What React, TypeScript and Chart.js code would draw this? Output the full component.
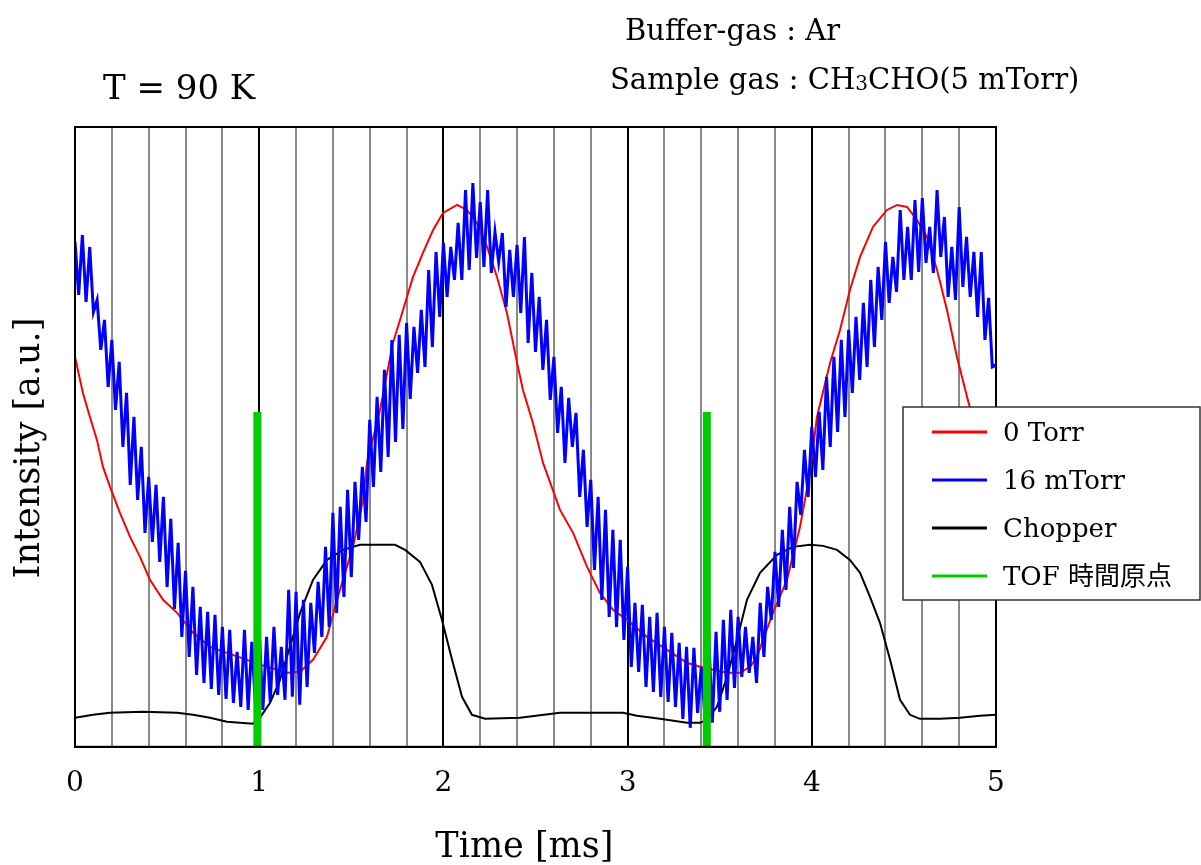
import React, { useEffect, useRef } from 'react';
import { Chart, registerables } from 'chart.js';

Chart.register(...registerables);

const X_MIN = 0;
const X_MAX = 5;
const X_STEP = 0.2;
const Y_MIN = 0;
const Y_MAX = 620;

const X_TITLE = 'Time [ms]\u00A0\u00A0';
const Y_TITLE = 'Intensity [a.u.]\u00A0\u00A0';

const SERIES_LABELS = ['0 Torr', '16 mTorr', 'Chopper', 'TOF 時間原点'];
const SERIES_COLORS = ['#ff0000', '#0000ff', '#000000', '#00cc00'];

// 0 Torr (red)
const RED_T = [0, 0.043, 0.081, 0.119, 0.152, 0.19, 0.244, 0.299, 0.353, 0.407, 0.478, 0.554, 0.641, 0.733, 0.825, 0.934, 1.042, 1.151, 1.222, 1.292, 1.368, 1.422, 1.509, 1.564, 1.585, 1.656, 1.726, 1.781, 1.835, 1.889, 1.944, 1.998, 2.074, 2.128, 2.182, 2.237, 2.291, 2.345, 2.4, 2.432, 2.486, 2.541, 2.633, 2.704, 2.78, 2.85, 2.921, 2.997, 3.105, 3.214, 3.322, 3.393, 3.464, 3.54, 3.61, 3.665, 3.703, 3.735, 3.789, 3.865, 3.936, 3.99, 4.028, 4.099, 4.153, 4.207, 4.262, 4.332, 4.408, 4.463, 4.517, 4.571, 4.625, 4.68, 4.734, 4.788, 4.843, 4.891, 4.946, 5.0];
const RED_V = [390, 354, 330, 307, 280, 260, 234, 210, 190, 167, 147, 134, 114, 100, 94, 87, 80, 74, 75, 87, 110, 147, 200, 247, 284, 337, 404, 437, 470, 494, 517, 534, 542, 537, 524, 500, 470, 434, 384, 357, 324, 284, 237, 214, 180, 154, 137, 127, 110, 97, 84, 80, 77, 74, 74, 80, 90, 107, 134, 167, 220, 274, 330, 384, 417, 457, 490, 520, 537, 542, 540, 527, 510, 477, 437, 390, 350, 317, 277, 247];

// 16 mTorr (blue), sampled every BLUE_DT ms from BLUE_T0
const BLUE_T0 = 0;
const BLUE_DT = 0.02;
const BLUE_V = [
  505, 452, 512, 445, 500, 435, 447, 397, 427, 360,
  407, 337, 385, 300, 354, 262, 330, 247, 300, 214,
  270, 205, 262, 185, 250, 160, 228, 138, 204, 110,
  176, 90, 160, 72, 140, 64, 135, 58, 132, 52,
  120, 48, 117, 44, 95, 40, 117, 37, 105, 40,
  117, 37, 110, 45, 120, 52, 100, 47, 157, 50,
  155, 42, 147, 60, 144, 94, 165, 110, 200, 120,
  234, 134, 240, 150, 257, 170, 265, 207, 280, 225,
  327, 260, 350, 275, 377, 290, 407, 305, 412, 318,
  424, 348, 420, 374, 437, 380, 477, 400, 495, 430,
  504, 450, 500, 467, 524, 467, 557, 477, 564, 489,
  545, 480, 557, 474, 515, 485, 514, 440, 497, 450,
  502, 434, 510, 404, 474, 395, 450, 377, 427, 347,
  390, 314, 360, 284, 349, 300, 334, 250, 297, 220,
  267, 177, 250, 147, 237, 130, 217, 120, 207, 107,
  180, 80, 144, 75, 142, 60, 130, 55, 134, 50,
  120, 45, 114, 40, 104, 28, 100, 19, 99, 34,
  80, 30, 112, 24, 115, 35, 127, 47, 137, 59,
  130, 70, 120, 74, 110, 64, 144, 90, 160, 127,
  195, 140, 217, 157, 240, 179, 265, 232, 297, 250,
  320, 270, 335, 277, 370, 300, 390, 315, 407, 330,
  417, 354, 430, 367, 444, 380, 467, 400, 480, 427,
  505, 444, 490, 455, 537, 467, 520, 467, 547, 475,
  549, 484, 520, 474, 557, 490, 530, 450, 500, 447,
  540, 460, 510, 450, 495, 430, 495, 407, 449, 380,
  382,
];

// Chopper (black)
const CHOP_T = [0, 0.098, 0.19, 0.369, 0.554, 0.641, 0.733, 0.825, 0.966, 1.004, 1.059, 1.113, 1.167, 1.222, 1.292, 1.368, 1.455, 1.547, 1.737, 1.792, 1.873, 1.938, 1.992, 2.047, 2.101, 2.155, 2.226, 2.416, 2.633, 2.975, 3.051, 3.176, 3.322, 3.393, 3.431, 3.485, 3.54, 3.594, 3.648, 3.719, 3.811, 3.898, 3.99, 4.061, 4.137, 4.207, 4.262, 4.316, 4.37, 4.425, 4.479, 4.533, 4.587, 4.696, 4.805, 4.913, 5.0];
const CHOP_V = [29, 32, 34, 35, 34, 32, 29, 25, 23, 29, 44, 67, 100, 134, 167, 187, 197, 202, 202, 197, 185, 162, 127, 87, 50, 32, 28, 29, 34, 34, 31, 28, 24, 24, 27, 40, 70, 107, 147, 174, 192, 200, 202, 201, 197, 187, 174, 150, 124, 87, 47, 32, 28, 28, 29, 31, 32];

// TOF time origins (green bars)
const TOF_T = [0.99, 3.43];
const TOF_TOP = 335;

const SERIF = '"DejaVu Serif", "Noto Sans CJK JP", serif';

const isInt = (v: number) => Math.abs(v - Math.round(v)) < 1e-6;

export default function App() {
  const canvasRef = useRef<HTMLCanvasElement | null>(null);

  useEffect(() => {
    const canvas = canvasRef.current;
    if (!canvas) return;

    const redData = RED_T.map((t, i) => ({ x: t, y: RED_V[i] }));
    const blueData = BLUE_V.map((v, i) => ({ x: BLUE_T0 + i * BLUE_DT, y: v }));
    const chopData = CHOP_T.map((t, i) => ({ x: t, y: CHOP_V[i] }));

    const tofSets = TOF_T.map((t, k) => ({
      label: SERIES_LABELS[3] + (k === 0 ? '' : ' ' + k),
      data: [
        { x: t, y: Y_MIN },
        { x: t, y: TOF_TOP },
      ],
      borderColor: SERIES_COLORS[3],
      borderWidth: 8,
      borderCapStyle: 'butt' as const,
      pointRadius: 0,
      order: 0,
    }));

    const overlay = {
      id: 'overlay',
      afterDatasetsDraw(chart: any) {
        const { ctx, chartArea } = chart;
        const { left, top, right, bottom } = chartArea;
        ctx.save();
        ctx.strokeStyle = '#000';
        ctx.lineWidth = 2;
        ctx.strokeRect(left, top, right - left, bottom - top);
        ctx.restore();
      },
      afterDraw(chart: any) {
        const { ctx } = chart;
        ctx.save();
        ctx.fillStyle = '#000';
        ctx.textBaseline = 'alphabetic';
        ctx.textAlign = 'left';
        // annotations
        ctx.font = `34px ${SERIF}`;
        ctx.fillText('T = 90 K', 103, 99);
        ctx.font = `29px ${SERIF}`;
        ctx.fillText('Buffer-gas : Ar', 625, 40);
        // Sample gas with subscript
        let x = 610;
        const y = 89;
        const parts: [string, boolean][] = [
          ['Sample gas : CH', false],
          ['3', true],
          ['CHO(5 mTorr)', false],
        ];
        for (const [txt, sub] of parts) {
          ctx.font = sub ? `20px ${SERIF}` : `29px ${SERIF}`;
          ctx.fillText(txt, x, sub ? y + 1 : y);
          x += ctx.measureText(txt).width;
        }

        // legend box
        const bx = 903, by = 407, bw = 297, bh = 193;
        ctx.fillStyle = '#fff';
        ctx.fillRect(bx, by, bw, bh);
        ctx.strokeStyle = '#333';
        ctx.lineWidth = 1.5;
        ctx.strokeRect(bx, by, bw, bh);
        const rows = [432, 480, 528, 576];
        SERIES_LABELS.forEach((lab, i) => {
          ctx.strokeStyle = SERIES_COLORS[i];
          ctx.lineWidth = 3;
          ctx.beginPath();
          ctx.moveTo(932, rows[i]);
          ctx.lineTo(987, rows[i]);
          ctx.stroke();
          ctx.fillStyle = '#000';
          ctx.font = `26px ${SERIF}`;
          ctx.textBaseline = 'middle';
          ctx.fillText(lab, 1003, rows[i] + 2);
        });
        ctx.restore();
      },
    };

    const chart = new Chart(canvas, {
      type: 'line',
      data: {
        datasets: [
          ...tofSets,
          {
            label: SERIES_LABELS[1],
            data: blueData,
            borderColor: SERIES_COLORS[1],
            borderWidth: 3,
            pointRadius: 0,
            tension: 0,
            order: 1,
          },
          {
            label: SERIES_LABELS[0],
            data: redData,
            borderColor: SERIES_COLORS[0],
            borderWidth: 2,
            pointRadius: 0,
            tension: 0,
            order: 2,
          },
          {
            label: SERIES_LABELS[2],
            data: chopData,
            borderColor: SERIES_COLORS[2],
            borderWidth: 2,
            pointRadius: 0,
            tension: 0,
            order: 3,
          },
        ],
      },
      options: {
        responsive: false,
        animation: false,
        parsing: false as any,
        layout: { padding: { left: 0, right: 205, top: 127, bottom: 0 } },
        plugins: {
          legend: { display: false },
          tooltip: { enabled: false },
        },
        scales: {
          x: {
            type: 'linear',
            min: X_MIN,
            max: X_MAX,
            ticks: {
              stepSize: X_STEP,
              autoSkip: false,
              maxRotation: 0,
              padding: 20,
              color: '#000',
              font: { family: SERIF, size: 28 },
              callback: (v: any) => (isInt(Number(v)) ? String(Math.round(Number(v))) : ''),
            },
            grid: {
              drawTicks: false,
              color: (c: any) => (c.tick && isInt(c.tick.value) ? '#000' : '#8a8a8a'),
              lineWidth: 2,
            },
            border: { display: true, color: '#000', width: 2 },
            title: {
              display: true,
              text: X_TITLE,
              color: '#000',
              font: { family: SERIF, size: 35, lineHeight: 1.0 },
              padding: { top: 9.6, bottom: 0 },
            },
          },
          y: {
            type: 'linear',
            min: Y_MIN,
            max: Y_MAX,
            ticks: { display: false },
            grid: { display: false, drawTicks: false },
            border: { display: true, color: '#000', width: 2 },
            title: {
              display: true,
              text: Y_TITLE,
              color: '#000',
              font: { family: SERIF, size: 35, lineHeight: 1.0 },
              padding: { top: 12, bottom: 28 },
            },
          },
        },
      },
      plugins: [overlay],
    });

    return () => chart.destroy();
  }, []);

  return (
    <div style={{ position: 'absolute', left: 0, top: 0, width: 1201, height: 865, background: '#fff' }}>
      <canvas ref={canvasRef} width={1201} height={865} />
    </div>
  );
}
